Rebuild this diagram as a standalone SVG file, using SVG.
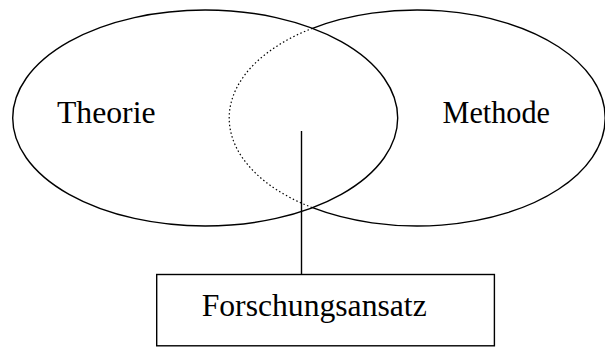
<svg xmlns="http://www.w3.org/2000/svg" width="605" height="347" viewBox="0 0 605 347">
<style>
.ln{fill:none;stroke:#000;stroke-width:1.4}
.dot{fill:none;stroke:#000;stroke-width:1.2;stroke-dasharray:1.5 2.4}
.t{font-family:"Liberation Serif","Times New Roman",serif;font-size:31.7px;fill:#000}
</style>
<rect width="605" height="347" fill="#fff"/>
<g id="theorie">
<ellipse class="ln" cx="205.2" cy="118" rx="192.5" ry="108"/>
<text class="t" x="57" y="123.3">Theorie</text>
</g>
<g id="methode">
<path class="ln" d="M312.5,28.3 A188,108 0 1 1 312.5,207.7"/>
<path class="dot" d="M312.5,28.3 A188,108 0 0 0 312.5,207.7"/>
<text class="t" x="442.5" y="123.3" textLength="107.5" lengthAdjust="spacingAndGlyphs">Methode</text>
</g>
<g id="forschungsansatz">
<rect class="ln" x="156.7" y="274.5" width="337.7" height="71.3"/>
<text class="t" x="201.7" y="316" textLength="225" lengthAdjust="spacingAndGlyphs">Forschungsansatz</text>
</g>
<g id="connectors">
<line class="ln" x1="301.5" y1="131" x2="301.5" y2="274.5"/>
</g>
</svg>
